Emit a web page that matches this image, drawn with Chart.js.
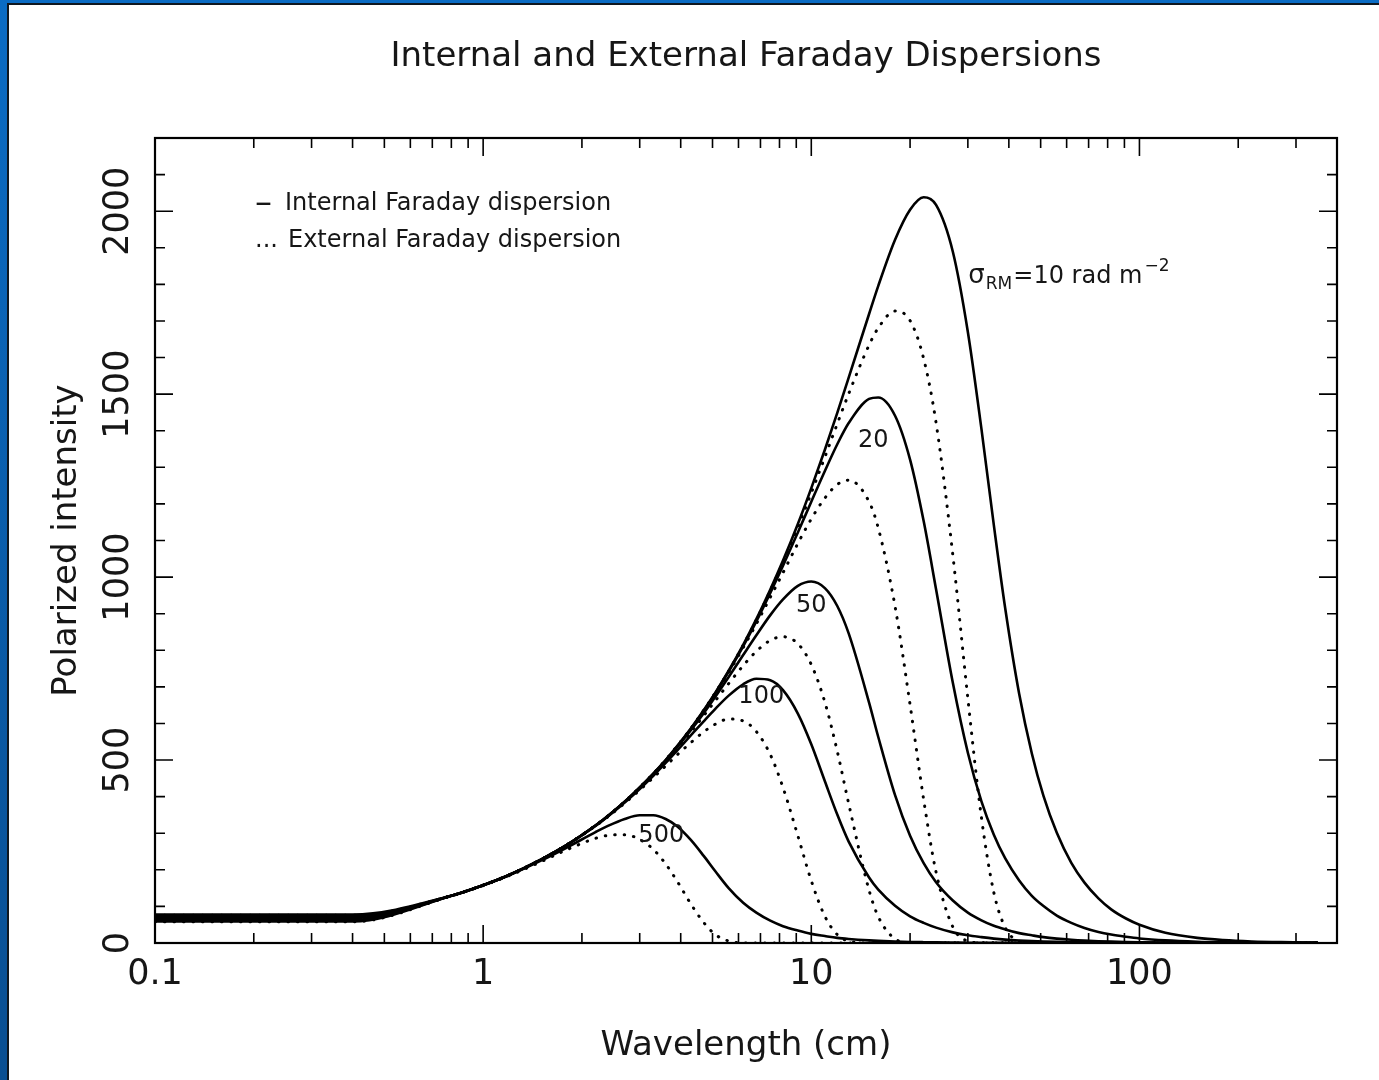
<!DOCTYPE html>
<html>
<head>
<meta charset="utf-8">
<title>Internal and External Faraday Dispersions</title>
<script src="https://cdn.jsdelivr.net/npm/chart.js@4.4.1/dist/chart.umd.min.js"></script>
<style>
  html, body { margin: 0; padding: 0; }
  body {
    width: 1379px; height: 1080px; overflow: hidden; position: relative;
    background: linear-gradient(#0b6cc4, #0a4f92);
  }
  #frame {
    position: absolute; left: 7px; top: 3px; right: 0; bottom: 0;
    border-left: 2px solid #101820; border-top: 2px solid #101820;
    background: #fff;
  }
  #chart { position: absolute; left: 0; top: 0; }
</style>
</head>
<body>
<div id="frame"><canvas id="chart" width="1370" height="1075"></canvas></div>
<script>
// wavelength grid in cm, shared by all ten curves
var wavelengths = [0.1, 0.4, 0.8, 1, 1.2, 1.5, 1.8,
  2.2, 2.4, 2.7, 3.0, 3.3, 3.6, 3.9,
  4.3, 4.7, 5.1, 5.6, 6.2, 6.8, 7.5,
  8.2, 9.1, 10, 11, 12, 13, 15,
  16, 18, 20, 22, 24, 27, 30,
  33, 36, 39, 43, 47, 51, 56,
  62, 68, 75, 82, 91, 100, 120,
  150, 180, 220, 270, 350];

// polarized intensity, internal (solid) and external (dotted) dispersion per sigma_RM
var internal10 = [78, 78, 129, 158, 186, 228, 268,
  321, 347, 386, 425, 463, 500, 538,
  587, 636, 684, 744, 815, 885, 966,
  1045, 1145, 1243, 1348, 1449, 1545, 1719,
  1796, 1922, 2004, 2038, 2017, 1889, 1670,
  1405, 1142, 914, 681, 518, 402, 301,
  219, 165, 122, 92, 67, 50, 28,
  14, 8, 4.3, 2.3, 1.0];
var external10 = [76, 76, 129, 158, 186, 228, 268,
  321, 347, 386, 425, 463, 500, 538,
  587, 636, 684, 743, 814, 883, 963,
  1040, 1137, 1230, 1328, 1419, 1501, 1634,
  1681, 1727, 1701, 1597, 1422, 1060, 668,
  343, 138, 42, 5.0, 0.3, 0, 0,
  0, 0, 0, 0, 0, 0, 0,
  0, 0, 0, 0, 0];
var internal20 = [73, 73, 129, 158, 186, 228, 268,
  321, 347, 386, 425, 463, 500, 537,
  586, 635, 683, 742, 811, 879, 957,
  1031, 1122, 1206, 1290, 1363, 1421, 1487,
  1491, 1441, 1321, 1153, 967, 711, 520,
  387, 296, 231, 171, 129, 101, 75,
  55, 41, 30, 23, 17, 12.5, 7.1,
  3.5, 2.0, 1.1, 0.6, 0.3];
var external20 = [71, 71, 129, 158, 186, 228, 268,
  321, 347, 386, 425, 462, 500, 537,
  586, 634, 681, 739, 807, 872, 945,
  1012, 1092, 1159, 1216, 1253, 1265, 1206,
  1134, 920, 651, 392, 194, 44, 5.2,
  0.3, 0, 0, 0, 0, 0, 0,
  0, 0, 0, 0, 0, 0, 0,
  0, 0, 0, 0, 0];
var internal50 = [68, 68, 129, 158, 186, 228, 268,
  321, 347, 386, 424, 461, 498, 535,
  582, 628, 673, 727, 787, 841, 896,
  939, 976, 988, 970, 921, 846, 657,
  563, 404, 293, 218, 166, 116, 83,
  62, 47, 37, 27, 21, 16, 12,
  8.8, 6.6, 4.9, 3.7, 2.7, 2.0, 1.1,
  0.6, 0.3, 0.2, 0.1, 0];
var external50 = [66, 66, 129, 158, 186, 228, 268,
  321, 347, 385, 423, 460, 496, 532,
  577, 621, 662, 709, 758, 797, 827,
  837, 818, 761, 658, 524, 381, 144,
  72, 11, 0.8, 0, 0, 0, 0,
  0, 0, 0, 0, 0, 0, 0,
  0, 0, 0, 0, 0, 0, 0,
  0, 0, 0, 0, 0];
var internal100 = [63, 63, 129, 158, 186, 228, 268,
  320, 346, 384, 421, 457, 492, 526,
  568, 606, 640, 676, 707, 722, 718,
  691, 627, 543, 442, 351, 277, 179,
  146, 102, 73, 55, 42, 29, 21,
  16, 12, 9.2, 6.8, 5.2, 4.0, 3.0,
  2.2, 1.6, 1.2, 0.9, 0.7, 0.5, 0.3,
  0.1, 0, 0, 0, 0];
var external100 = [61, 61, 129, 158, 186, 227, 268,
  320, 345, 382, 418, 452, 484, 514,
  548, 577, 598, 612, 607, 578, 515,
  425, 293, 170, 73, 23, 5.2, 0,
  0, 0, 0, 0, 0, 0, 0,
  0, 0, 0, 0, 0, 0, 0,
  0, 0, 0, 0, 0, 0, 0,
  0, 0, 0, 0, 0];
var internal500 = [59, 59, 129, 158, 185, 225, 261,
  303, 320, 339, 349, 349, 339, 319,
  281, 238, 196, 150, 110, 83, 61,
  46, 34, 25, 19, 14, 11, 7.1,
  5.8, 4.1, 2.9, 2.2, 1.7, 1.2, 0.8,
  0.6, 0.5, 0.4, 0.3, 0.2, 0.2, 0.1,
  0, 0, 0, 0, 0, 0, 0,
  0, 0, 0, 0, 0];
var external500 = [58, 58, 129, 157, 184, 222, 255,
  286, 294, 296, 283, 256, 216, 169,
  106, 56, 23, 5.5, 0.5, 0, 0,
  0, 0, 0, 0, 0, 0, 0,
  0, 0, 0, 0, 0, 0, 0,
  0, 0, 0, 0, 0, 0, 0,
  0, 0, 0, 0, 0, 0, 0,
  0, 0, 0, 0, 0];

var xTickValues = [0.1, 1, 10, 100];
var yTickValues = [0, 500, 1000, 1500, 2000];

// curve tags, placed in data coordinates (wavelength, intensity)
var curveTags = [
  { text: "20", x: 15.45, y: 1373 },
  { text: "50", x: 10.0, y: 922 },
  { text: "100", x: 7.04, y: 673 },
  { text: "500", x: 3.49, y: 293 }
];
var sigmaTag = { x: 30.1, y: 1822 };

var FONT = "'DejaVu Sans', sans-serif";
var INK = "#161616";

function points(values) {
  return wavelengths.map(function (w, i) {
    return { x: w, y: values[i] };
  });
}

function curve(label, values, dotted) {
  return {
    label: label,
    data: points(values),
    borderColor: "#000",
    borderWidth: dotted ? 3 : 2.6,
    borderDash: dotted ? [0.5, 9] : [],
    borderCapStyle: dotted ? "round" : "butt",
    pointRadius: 0,
    fill: false,
    cubicInterpolationMode: "monotone"
  };
}

// box round the plot plus inward ticks on all four sides
var frameTicks = {
  id: "frameTicks",
  afterDatasetsDraw: function (chart) {
    var ctx = chart.ctx, a = chart.chartArea;
    var xs = chart.scales.x, ys = chart.scales.y;
    ctx.save();
    ctx.strokeStyle = "#000";
    ctx.lineWidth = 1.6;
    ctx.beginPath();
    xTickValues.forEach(function (d) {
      for (var k = 1; k <= 9; k++) {
        var v = d * k;
        if (v > xs.max) break;
        var px = xs.getPixelForValue(v);
        var len = k === 1 ? 18 : 10;
        ctx.moveTo(px, a.bottom);
        ctx.lineTo(px, a.bottom - len);
        ctx.moveTo(px, a.top);
        ctx.lineTo(px, a.top + len);
      }
    });
    for (var v = 0; v <= ys.max; v += 100) {
      var py = ys.getPixelForValue(v);
      var len = v % 500 === 0 ? 18 : 10;
      ctx.moveTo(a.left, py);
      ctx.lineTo(a.left + len, py);
      ctx.moveTo(a.right, py);
      ctx.lineTo(a.right - len, py);
    }
    ctx.stroke();
    ctx.lineWidth = 2.2;
    ctx.strokeRect(a.left, a.top, a.right - a.left, a.bottom - a.top);
    ctx.restore();
  }
};

// sigma_RM tags beside the curves and the line-style key
var curveNotes = {
  id: "curveNotes",
  afterDraw: function (chart) {
    var ctx = chart.ctx, a = chart.chartArea;
    var xs = chart.scales.x, ys = chart.scales.y;
    ctx.save();
    ctx.fillStyle = INK;
    ctx.textBaseline = "middle";
    ctx.textAlign = "center";
    ctx.font = "24px " + FONT;
    curveTags.forEach(function (t) {
      ctx.fillText(t.text, xs.getPixelForValue(t.x), ys.getPixelForValue(t.y));
    });

    ctx.textAlign = "left";
    var x = xs.getPixelForValue(sigmaTag.x);
    var y = ys.getPixelForValue(sigmaTag.y);
    ctx.font = "26px " + FONT;
    ctx.fillText("σ", x, y);
    x += ctx.measureText("σ").width + 1;
    ctx.font = "17px " + FONT;
    ctx.fillText("RM", x, y + 8);
    x += ctx.measureText("RM").width + 1;
    ctx.font = "24px " + FONT;
    ctx.fillText("=10 rad m", x, y);
    x += ctx.measureText("=10 rad m").width + 2;
    ctx.font = "17px " + FONT;
    ctx.fillText("−2", x, y - 10);

    ctx.font = "34px " + FONT;
    ctx.fillText("–", a.left + 100, a.top + 66);
    ctx.font = "24px " + FONT;
    ctx.fillText("Internal Faraday dispersion", a.left + 130, a.top + 66);
    ctx.fillText("...", a.left + 100, a.top + 103);
    ctx.fillText("External Faraday dispersion", a.left + 133, a.top + 103);
    ctx.restore();
  }
};

new Chart(document.getElementById("chart"), {
  type: "line",
  data: {
    datasets: [
      curve("Internal, 10", internal10, false),
      curve("External, 10", external10, true),
      curve("Internal, 20", internal20, false),
      curve("External, 20", external20, true),
      curve("Internal, 50", internal50, false),
      curve("External, 50", external50, true),
      curve("Internal, 100", internal100, false),
      curve("External, 100", external100, true),
      curve("Internal, 500", internal500, false),
      curve("External, 500", external500, true)
    ]
  },
  options: {
    responsive: false,
    animation: false,
    devicePixelRatio: 1,
    layout: { padding: { left: 0, right: 42, top: 0, bottom: 0 } },
    plugins: {
      legend: { display: false },
      tooltip: { enabled: false },
      title: {
        display: true,
        fullSize: false,
        text: "Internal and External Faraday Dispersions",
        color: INK,
        font: { family: FONT, size: 34, weight: "normal" },
        padding: { top: 31.6, bottom: 60.6 }
      }
    },
    scales: {
      x: {
        type: "logarithmic",
        min: 0.1,
        max: 400,
        afterBuildTicks: function (scale) {
          scale.ticks = xTickValues.map(function (v) { return { value: v, major: true }; });
        },
        afterFit: function (scale) { scale.height = 137; },
        grid: { display: false },
        border: { display: false },
        ticks: {
          color: INK,
          font: { family: FONT, size: 35 },
          padding: 3,
          autoSkip: false,
          maxRotation: 0,
          callback: function (v) { return String(v); }
        },
        title: {
          display: true,
          text: "Wavelength (cm)",
          color: INK,
          font: { family: FONT, size: 34 },
          padding: { top: 0, bottom: 13 }
        }
      },
      y: {
        type: "linear",
        min: 0,
        max: 2200,
        afterBuildTicks: function (scale) {
          scale.ticks = yTickValues.map(function (v) { return { value: v }; });
        },
        afterFit: function (scale) { scale.width = 146; },
        grid: { display: false },
        border: { display: false },
        ticks: {
          color: INK,
          font: { family: FONT, size: 35 },
          padding: -16,
          minRotation: 90,
          maxRotation: 90,
          crossAlign: "center",
          callback: function (v) { return String(v); }
        },
        title: {
          display: true,
          text: "Polarized intensity",
          color: INK,
          font: { family: FONT, size: 34 },
          padding: { top: 37.6, bottom: 0 }
        }
      }
    }
  },
  plugins: [frameTicks, curveNotes]
});
</script>
</body>
</html>
